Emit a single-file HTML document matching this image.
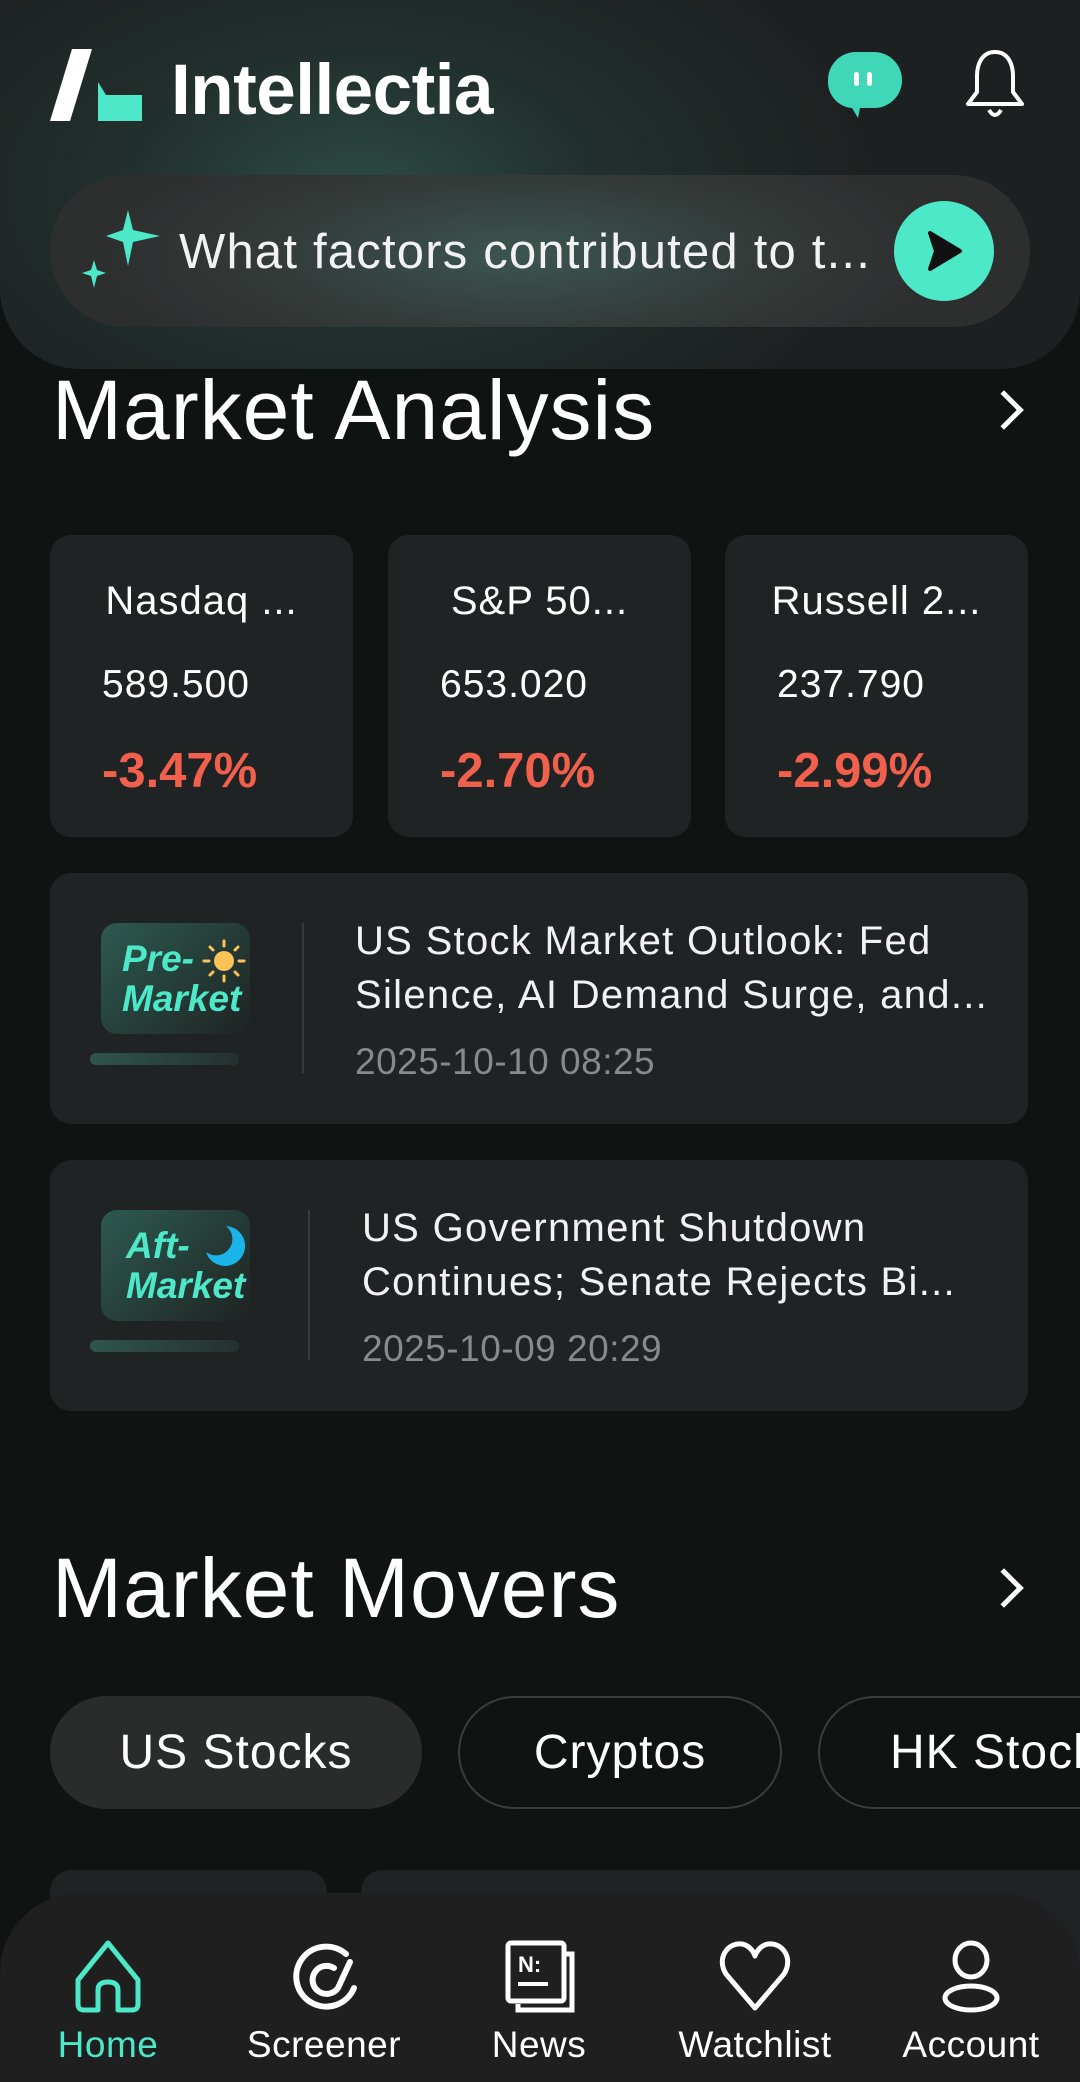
<!DOCTYPE html>
<html style="width:1080px;height:2082px;overflow:hidden"><head><meta charset="utf-8">
<style>
*{margin:0;padding:0;box-sizing:border-box}
html,body{width:1080px;height:2082px;overflow:hidden}
body{background:#0f1312;font-family:"Liberation Sans",sans-serif;color:#fff}
#wrap{position:relative;width:1080px;height:2082px;overflow:hidden}
.abs{position:absolute}
.header{left:0;top:0;width:1080px;height:369px;border-radius:0 0 80px 80px;background:radial-gradient(ellipse 520px 300px at 360px 190px,#2c4a43 0%,#22302d 45%,#1d2020 100%)}
.search{left:50px;top:175px;width:980px;height:152px;border-radius:76px;background:radial-gradient(ellipse 420px 130px at 470px 80px,#3c5550 0%,#333a38 60%,#2d2f2f 100%)}
.card{background:#1f2323;border-radius:21px;overflow:hidden}
.idx-name{font-size:40px;text-align:center;width:100%;position:absolute;top:44px;letter-spacing:1px}
.idx-val{font-size:39px;position:absolute;left:52px;top:128px;letter-spacing:1px}
.idx-pct{font-size:49px;font-weight:bold;color:#f0604c;position:absolute;left:52px;top:208px}
.title{font-size:40px;line-height:54px;color:#f2f2f2;letter-spacing:1.3px;white-space:nowrap}
.date{font-size:37px;color:#868a8a;letter-spacing:0.5px}
.h1{font-size:84px;font-weight:normal;letter-spacing:1px}
.tab{height:113px;border-radius:57px;font-size:48px;display:flex;align-items:center;justify-content:center;letter-spacing:1px}
.nav{left:0;top:1893px;width:1080px;height:189px;background:#1f1f1f;border-radius:80px 80px 0 0}
.lbl{font-size:37px;position:absolute;top:2024px;width:200px;text-align:center;letter-spacing:0.5px}
.chev{width:28px;height:28px;border-right:5px solid #fff;border-top:5px solid #fff;transform:rotate(45deg)}
</style></head><body>
<div id="wrap">
<div class="abs header"></div>
<svg class="abs" style="left:50px;top:49px" width="92" height="72"><polygon points="22,0 42,0 20,72 0,72" fill="#fff"/><polygon points="48,33 56,46 92,46 92,72 48,72" fill="#4de8c8"/></svg>
<div class="abs" style="left:171px;top:50px;font-size:71px;font-weight:bold;letter-spacing:-0.5px">Intellectia</div>
<svg class="abs" style="left:826px;top:50px" width="78" height="70"><path d="M30,2 H48 A28,28 0 0 1 76,30 V32 A28,28 0 0 1 48,58 H34 L32,68 L26,58 A26,26 0 0 1 2,32 V30 A28,28 0 0 1 30,2Z" fill="#3fd7b7"/><rect x="28" y="22" width="5" height="14" rx="2.5" fill="#fff"/><rect x="41" y="22" width="5" height="14" rx="2.5" fill="#fff"/></svg>
<svg class="abs" style="left:962px;top:48px" width="66" height="76"><path d="M33,4 C20,4 15,16 15,28 V44 L6,56 H60 L51,44 V28 C51,16 46,4 33,4Z" fill="none" stroke="#fff" stroke-width="4" stroke-linejoin="round"/><path d="M27,62 Q33,72 39,62" fill="none" stroke="#fff" stroke-width="4"/></svg>
<div class="abs search"></div>
<svg class="abs" style="left:78px;top:210px" width="84" height="80"><path d="M50,0 L55,20 L82,26 L55,32 L50,56 L45,32 L28,26 L45,20Z" fill="#4de8c8"/><path d="M16,50 L19,60 L28,63 L19,66 L16,78 L13,66 L4,63 L13,60Z" fill="#4de8c8"/></svg>
<div class="abs" style="left:179px;top:224px;font-size:49px;color:#f2f2f2;letter-spacing:1.2px;white-space:nowrap">What factors contributed to t...</div>
<div class="abs" style="left:894px;top:201px;width:100px;height:100px;border-radius:50%;background:#4de8c8"><svg width="100" height="100"><path d="M36,32 L66,50 L36,68 L42,50Z" fill="#111" stroke="#111" stroke-width="4" stroke-linejoin="round"/></svg></div>

<div class="abs h1" style="left:52px;top:362px">Market Analysis</div>
<div class="abs chev" style="left:990px;top:396px"></div>

<div class="abs card" style="left:50px;top:535px;width:303px;height:302px"><div class="idx-name">Nasdaq ...</div><div class="idx-val">589.500</div><div class="idx-pct">-3.47%</div></div>
<div class="abs card" style="left:388px;top:535px;width:303px;height:302px"><div class="idx-name">S&amp;P 50...</div><div class="idx-val">653.020</div><div class="idx-pct">-2.70%</div></div>
<div class="abs card" style="left:725px;top:535px;width:303px;height:302px"><div class="idx-name">Russell 2...</div><div class="idx-val">237.790</div><div class="idx-pct">-2.99%</div></div>

<div class="abs card" style="left:50px;top:873px;width:978px;height:251px">
 <div class="abs" style="left:51px;top:50px;width:149px;height:111px;border-radius:16px;background:linear-gradient(135deg,#2d5a50,#1f2323)"></div>
 <div class="abs" style="left:72px;top:66px;font-size:37px;font-weight:bold;font-style:italic;color:#4de8c8;line-height:40px">Pre-<br>Market</div>
 <svg class="abs" style="left:152px;top:66px" width="44" height="44"><circle cx="22" cy="22" r="10" fill="#fbc256"/><g stroke="#fbc256" stroke-width="3" stroke-linecap="round"><line x1="22" y1="2" x2="22" y2="7"/><line x1="22" y1="37" x2="22" y2="42"/><line x1="2" y1="22" x2="7" y2="22"/><line x1="37" y1="22" x2="42" y2="22"/><line x1="8" y1="8" x2="11" y2="11"/><line x1="33" y1="33" x2="36" y2="36"/><line x1="36" y1="8" x2="33" y2="11"/><line x1="8" y1="36" x2="11" y2="33"/></g></svg>
 <div class="abs" style="left:40px;top:180px;width:149px;height:12px;border-radius:6px;background:linear-gradient(90deg,#2e554c,#253030)"></div>
 <div class="abs" style="left:252px;top:50px;width:2px;height:150px;background:#363a3a"></div>
 <div class="abs title" style="left:305px;top:41px">US Stock Market Outlook: Fed<br>Silence, AI Demand Surge, and...</div>
 <div class="abs date" style="left:305px;top:168px">2025-10-10 08:25</div>
</div>
<div class="abs card" style="left:50px;top:1160px;width:978px;height:251px">
 <div class="abs" style="left:51px;top:50px;width:149px;height:111px;border-radius:16px;background:linear-gradient(135deg,#2d5a50,#1f2323)"></div>
 <div class="abs" style="left:76px;top:66px;font-size:37px;font-weight:bold;font-style:italic;color:#4de8c8;line-height:40px">Aft-<br>Market</div>
 <svg class="abs" style="left:152px;top:64px" width="44" height="44"><path d="M24,2 A20,20 0 1 1 4,28 A16,16 0 0 0 24,2Z" fill="#1ab4e8"/></svg>
 <div class="abs" style="left:40px;top:180px;width:149px;height:12px;border-radius:6px;background:linear-gradient(90deg,#2e554c,#253030)"></div>
 <div class="abs" style="left:258px;top:50px;width:2px;height:150px;background:#363a3a"></div>
 <div class="abs title" style="left:312px;top:41px">US Government Shutdown<br>Continues; Senate Rejects Bi...</div>
 <div class="abs date" style="left:312px;top:168px">2025-10-09 20:29</div>
</div>

<div class="abs h1" style="left:52px;top:1540px">Market Movers</div>
<div class="abs chev" style="left:990px;top:1574px"></div>

<div class="abs tab" style="left:50px;top:1696px;width:372px;background:#2a2c2c">US Stocks</div>
<div class="abs tab" style="left:458px;top:1696px;width:324px;border:2px solid #3a3d3d">Cryptos</div>
<div class="abs tab" style="left:818px;top:1696px;width:262px;border:2px solid #3a3d3d;border-right:none;border-radius:57px 0 0 57px;justify-content:flex-start;padding-left:70px;overflow:hidden;white-space:nowrap">HK Stocks</div>

<div class="abs card" style="left:50px;top:1870px;width:277px;height:200px"></div>
<div class="abs card" style="left:361px;top:1870px;width:719px;height:200px;border-radius:21px 0 0 21px"></div>

<div class="abs nav"></div>
<svg class="abs" style="left:74px;top:1940px" width="68" height="74"><path d="M34,3 L64,40 V64 Q64,70 58,70 H44 V50 Q44,42 34,42 Q24,42 24,50 V70 H10 Q4,70 4,64 V40Z" fill="none" stroke="#4de8c8" stroke-width="5" stroke-linejoin="round"/></svg>
<svg class="abs" style="left:290px;top:1940px" width="70" height="74"><path d="M56,14 A30,30 0 1 0 64,48" fill="none" stroke="#fff" stroke-width="6" stroke-linecap="round"/><path d="M44,28 A14,14 0 1 0 48,48 L60,22" fill="none" stroke="#fff" stroke-width="6" stroke-linecap="round"/></svg>
<svg class="abs" style="left:504px;top:1940px" width="72" height="74"><rect x="4" y="3" width="56" height="58" rx="3" fill="none" stroke="#fff" stroke-width="5"/><path d="M62,14 H68 V70 H14 V64" fill="none" stroke="#fff" stroke-width="5"/><text x="14" y="32" font-size="22" font-weight="bold" fill="#fff" font-family="Liberation Sans">N:</text><rect x="14" y="42" width="30" height="4" fill="#fff"/></svg>
<svg class="abs" style="left:718px;top:1940px" width="74" height="74"><path d="M37,68 L8,34 C-2,18 10,2 24,4 C30,5 35,10 37,16 C39,10 44,5 50,4 C64,2 76,18 66,34Z" fill="none" stroke="#fff" stroke-width="5" stroke-linejoin="round"/></svg>
<svg class="abs" style="left:938px;top:1940px" width="66" height="74"><ellipse cx="33" cy="20" rx="16" ry="17" fill="none" stroke="#fff" stroke-width="5"/><ellipse cx="33" cy="58" rx="26" ry="12" fill="none" stroke="#fff" stroke-width="5"/></svg>
<div class="lbl" style="left:8px;color:#4de8c8">Home</div>
<div class="lbl" style="left:224px">Screener</div>
<div class="lbl" style="left:439px">News</div>
<div class="lbl" style="left:655px">Watchlist</div>
<div class="lbl" style="left:871px">Account</div>
</div>
</body></html>
